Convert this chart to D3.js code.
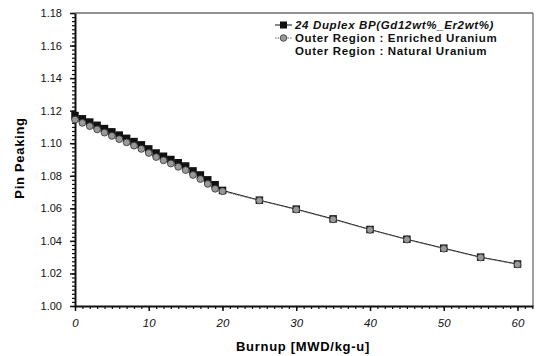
<!DOCTYPE html>
<html lang="en">
<head>
<meta charset="UTF-8">
<title>Pin Peaking vs Burnup</title>
<style>
  body { margin: 0; background: #fff; }
  text { font-family: "Liberation Sans", Arial, sans-serif; }
</style>
</head>
<body>
<script src="https://d3js.org/d3.v7.min.js"></script>
<script>
// burnup points (MWD/kg-u)
var burnup = [0, 1, 2, 3, 4, 5, 6, 7, 8, 9, 10, 11, 12, 13, 14, 15, 16, 17, 18, 19, 20,
              25, 30, 35, 40, 45, 50, 55, 60];
// 24 Duplex BP (squares)
var duplexBP = [1.117, 1.115, 1.113, 1.111, 1.109, 1.107, 1.105, 1.103, 1.101, 1.099, 1.0965,
                1.094, 1.092, 1.090, 1.088, 1.086, 1.083, 1.0805, 1.0775, 1.0745, 1.071,
                1.065, 1.0595, 1.0535, 1.047, 1.041, 1.0355, 1.030, 1.0258];
// Outer region : enriched uranium (circles)
var enriched = [1.1145, 1.1125, 1.1105, 1.1085, 1.1065, 1.1045, 1.1025, 1.1005, 1.0985, 1.0965, 1.094,
                1.0915, 1.0895, 1.0875, 1.0855, 1.0835, 1.0805, 1.078, 1.075, 1.072, 1.0705,
                1.0648, 1.0592, 1.0532, 1.0468, 1.0408, 1.0352, 1.0298, 1.0255];
var legendLabels = ["24 Duplex BP(Gd12wt%_Er2wt%)",
                    "Outer Region : Enriched Uranium",
                    "Outer Region : Natural Uranium"];
var xTicks = [0, 10, 20, 30, 40, 50, 60];
var yTicks = [1.00, 1.02, 1.04, 1.06, 1.08, 1.10, 1.12, 1.14, 1.16, 1.18];

const W = 540, H = 356;
const mLeft = 75, mRight = 533, mTop = 13, mBottom = 306;

const svg = d3.select("body").append("svg")
    .attr("width", W).attr("height", H);

const x = d3.scaleLinear().domain([0, 62.1]).range([mLeft, mRight]);
const y = d3.scaleLinear().domain([1.00, 1.18]).range([mBottom, mTop]);

// frame (top and right thin)
svg.append("line").attr("x1", mLeft).attr("x2", mRight).attr("y1", mTop).attr("y2", mTop)
    .attr("stroke", "#222").attr("stroke-width", 1);
svg.append("line").attr("x1", mRight).attr("x2", mRight).attr("y1", mTop).attr("y2", mBottom)
    .attr("stroke", "#444").attr("stroke-width", 1);

// minor ticks
const xMinor = d3.range(0, 63, 1);
const yMinor = d3.range(0, 73).map(function(i) { return 1.00 + i * 0.0025; });

svg.append("g")
    .attr("transform", "translate(0," + mBottom + ")")
    .call(d3.axisBottom(x).tickValues(xMinor).tickSize(3).tickFormat(""))
    .call(function(g) { g.select(".domain").remove(); })
    .selectAll("line").attr("stroke", "#111").attr("stroke-width", 1.2);

svg.append("g")
    .attr("transform", "translate(" + mLeft + ",0)")
    .call(d3.axisLeft(y).tickValues(yMinor).tickSize(3).tickFormat(""))
    .call(function(g) { g.select(".domain").remove(); })
    .selectAll("line").attr("stroke", "#111").attr("stroke-width", 1.2);

// major axes
const xAxis = svg.append("g")
    .attr("transform", "translate(0," + mBottom + ")")
    .call(d3.axisBottom(x).tickValues(xTicks).tickSize(5).tickSizeOuter(0).tickPadding(8)
        .tickFormat(d3.format("d")));
xAxis.select(".domain").attr("stroke", "#111").attr("stroke-width", 2);
xAxis.selectAll("line").attr("stroke", "#111").attr("stroke-width", 1.5);
xAxis.selectAll("text").attr("font-size", 11.5).attr("font-style", "italic").attr("fill", "#111");

const yAxis = svg.append("g")
    .attr("transform", "translate(" + mLeft + ",0)")
    .call(d3.axisLeft(y).tickValues(yTicks).tickSize(5).tickSizeOuter(0).tickPadding(8)
        .tickFormat(d3.format(".2f")));
yAxis.select(".domain").attr("stroke", "#111").attr("stroke-width", 2);
yAxis.selectAll("line").attr("stroke", "#111").attr("stroke-width", 1.5);
yAxis.selectAll("text").attr("font-size", 11).attr("fill", "#111");

// axis titles
svg.append("text")
    .attr("x", 303).attr("y", 351)
    .attr("text-anchor", "middle")
    .attr("font-size", 13).attr("font-weight", "bold")
    .attr("letter-spacing", 0.7)
    .text("Burnup [MWD/kg-u]");

svg.append("text")
    .attr("transform", "translate(24,158) rotate(-90)")
    .attr("text-anchor", "middle")
    .attr("font-size", 13).attr("font-weight", "bold")
    .attr("letter-spacing", 0.7)
    .text("Pin Peaking");

// series
const sqData = burnup.map(function(b, i) { return [b, duplexBP[i]]; });
const ciData = burnup.map(function(b, i) { return [b, enriched[i]]; });
const line = d3.line().x(function(d) { return x(d[0]); }).y(function(d) { return y(d[1]); });

svg.append("path").datum(sqData).attr("d", line)
    .attr("fill", "none").attr("stroke", "#111").attr("stroke-width", 1);
svg.append("path").datum(ciData).attr("d", line)
    .attr("fill", "none").attr("stroke", "#666").attr("stroke-width", 1)
    .attr("stroke-dasharray", "1.5,1");

svg.append("g").selectAll("rect").data(sqData).enter().append("rect")
    .attr("x", function(d) { return x(d[0]) - 3.75; })
    .attr("y", function(d) { return y(d[1]) - 3.75; })
    .attr("width", 7.5).attr("height", 7.5)
    .attr("fill", "#111");

svg.append("g").selectAll("circle").data(ciData).enter().append("circle")
    .attr("cx", function(d) { return x(d[0]); })
    .attr("cy", function(d) { return y(d[1]); })
    .attr("r", 3.4)
    .attr("fill", "#999").attr("stroke", "#333").attr("stroke-width", 0.8);

// legend
const lg = svg.append("g").attr("transform", "translate(275,25)");
lg.append("line").attr("x1", 0).attr("x2", 17).attr("y1", 0).attr("y2", 0)
    .attr("stroke", "#111").attr("stroke-width", 1);
lg.append("rect").attr("x", 5).attr("y", -3.5).attr("width", 7).attr("height", 7).attr("fill", "#111");
lg.append("line").attr("x1", 0).attr("x2", 17).attr("y1", 13).attr("y2", 13)
    .attr("stroke", "#666").attr("stroke-width", 1).attr("stroke-dasharray", "1.5,1");
lg.append("circle").attr("cx", 8.5).attr("cy", 13).attr("r", 3.3)
    .attr("fill", "#999").attr("stroke", "#333").attr("stroke-width", 0.8);

lg.selectAll("text.lbl").data(legendLabels).enter().append("text")
    .attr("class", "lbl")
    .attr("x", 20).attr("y", function(d, i) { return i * 13 + 4; })
    .attr("font-size", 11.5).attr("font-weight", "bold")
    .attr("font-style", function(d, i) { return i === 0 ? "italic" : "normal"; })
    .attr("letter-spacing", 0.65)
    .attr("fill", "#111")
    .text(function(d) { return d; });
</script>
</body>
</html>
